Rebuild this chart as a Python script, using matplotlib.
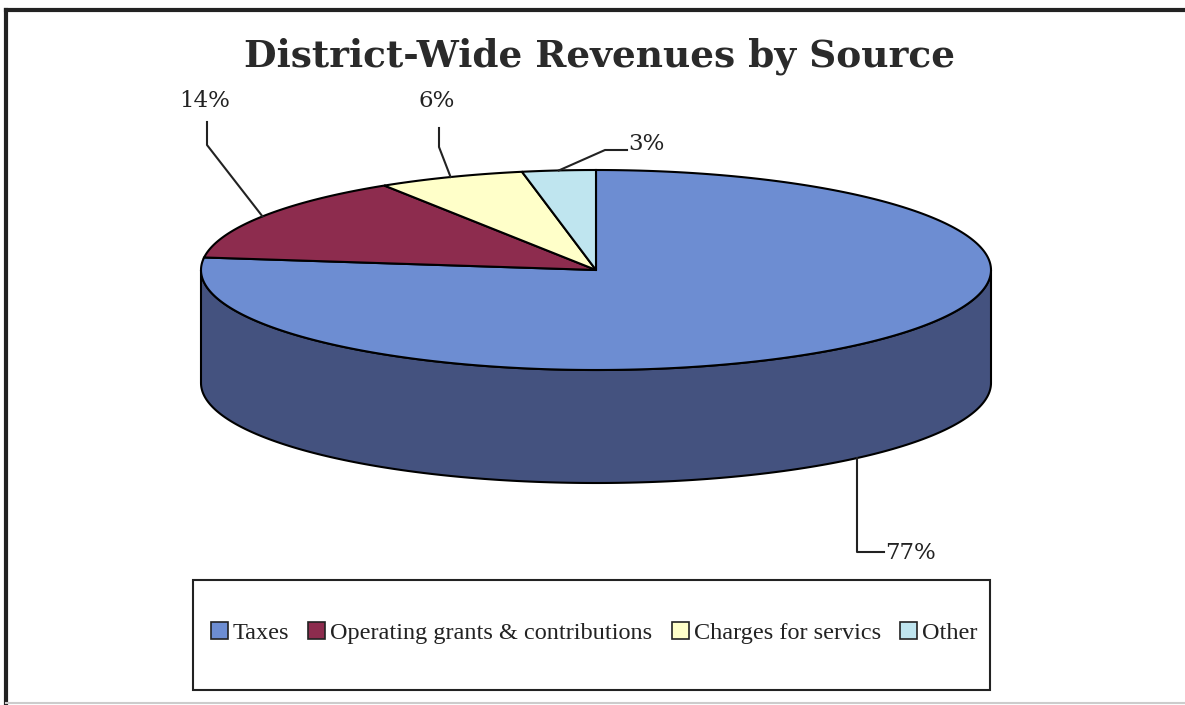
import numpy as np
import matplotlib
matplotlib.use('Agg')
import matplotlib.pyplot as plt
from matplotlib.patches import Polygon, Rectangle
from matplotlib.lines import Line2D

# ---- data ----
categories = ['Taxes', 'Operating grants & contributions', 'Charges for servics', 'Other']
shares = [77, 14, 6, 3]
pct_labels = ['77%', '14%', '6%', '3%']
title = 'District-Wide Revenues by Source'

# ---- style ----
top_colors = ['#6d8dd2', '#8d2c4e', '#ffffc9', '#bfe5ef']
side_colors = ['#44527f', '#5e1d34', '#bfbf96', '#8fb0b8']

fig = plt.figure(figsize=(11.85, 7.05), dpi=100)
ax = fig.add_axes([0, 0, 1, 1])
ax.set_xlim(0, 1185)
ax.set_ylim(705, 0)
ax.axis('off')

# frame
ax.add_line(Line2D([6, 6], [10, 705], color='#222222', lw=3))
ax.add_line(Line2D([6, 1185], [10, 10], color='#222222', lw=3))
ax.add_line(Line2D([6, 1185], [703, 703], color='#cccccc', lw=1.5))

cx, cy, a, b, depth = 596, 270, 395, 100, 113
start_angle = 90.0


def pt(theta_deg, dy=0.0):
    t = np.radians(theta_deg)
    return cx + a * np.cos(t), cy - b * np.sin(t) + dy


total = float(sum(shares))
spans = []
ang = start_angle
for v in shares:
    sweep = 360.0 * v / total
    spans.append((ang, ang - sweep))  # clockwise
    ang -= sweep

# side faces (front half: sin(theta) < 0)
for (s, e), col in zip(spans, side_colors):
    for k in range(-2, 2):
        lo = max(e, -180 + 360 * k)
        hi = min(s, 0 + 360 * k)
        if hi > lo:
            th = np.linspace(lo, hi, 200)
            topx, topy = pt(th)
            botx, boty = pt(th[::-1], depth)
            xs = np.concatenate([topx, botx])
            ys = np.concatenate([topy, boty])
            ax.add_patch(Polygon(np.column_stack([xs, ys]), closed=True,
                                 facecolor=col, edgecolor='black', lw=1.5,
                                 joinstyle='round', zorder=2))

# top wedges
for (s, e), col in zip(spans, top_colors):
    th = np.linspace(s, e, 300)
    xs, ys = pt(th)
    poly = np.column_stack([np.concatenate([[cx], xs]), np.concatenate([[cy], ys])])
    ax.add_patch(Polygon(poly, closed=True, facecolor=col, edgecolor='black',
                         lw=1.5, joinstyle='miter', zorder=3))

# leader lines and labels
label_font = dict(family='DejaVu Serif', fontsize=16.5, color='#222222')
leader_paths = [
    [(None, 552), (884, 552)],
    [(207, 145), (207, 122)],
    [(439, 147), (439, 128)],
    [(605, 150), (627, 150)],
]
text_pos = [(885, 553, 'left'), (205, 101, 'center'), (437, 101, 'center'), (628, 144, 'left')]

for (s, e), lab, path, (tx, ty, ha) in zip(spans, pct_labels, leader_paths, text_pos):
    mid = (s + e) / 2.0
    dy = depth if np.sin(np.radians(mid)) < 0 else 0.0
    axx, ayy = pt(mid, dy)
    xs = [axx]
    ys = [ayy]
    for px, py in path:
        xs.append(axx if px is None else px)
        ys.append(py)
    ax.add_line(Line2D(xs, ys, color='#222222', lw=1.5, zorder=4))
    ax.text(tx, ty, lab, ha=ha, va='center', **label_font)

# title
ax.text(600, 56, title, ha='center', va='center', family='DejaVu Serif',
        fontweight='bold', fontsize=27, color='#2a2a2a')

# legend box
ax.add_patch(Rectangle((193, 580), 797, 110, facecolor='white', edgecolor='#222222',
                       lw=1.5, zorder=1))
handles = [Rectangle((0, 0), 1, 1, facecolor=c, edgecolor='#222222', lw=1.2) for c in top_colors]
leg = ax.legend(handles, categories, loc='center', bbox_to_anchor=(594 / 1185, 1 - 633 / 705),
                ncol=4, frameon=False, handlelength=0.7, handleheight=0.7,
                handletextpad=0.2, columnspacing=0.8,
                prop=dict(family='Liberation Serif', size=17.5))
for t in leg.get_texts():
    t.set_color('#222222')

fig.savefig('out.png', dpi=100)
